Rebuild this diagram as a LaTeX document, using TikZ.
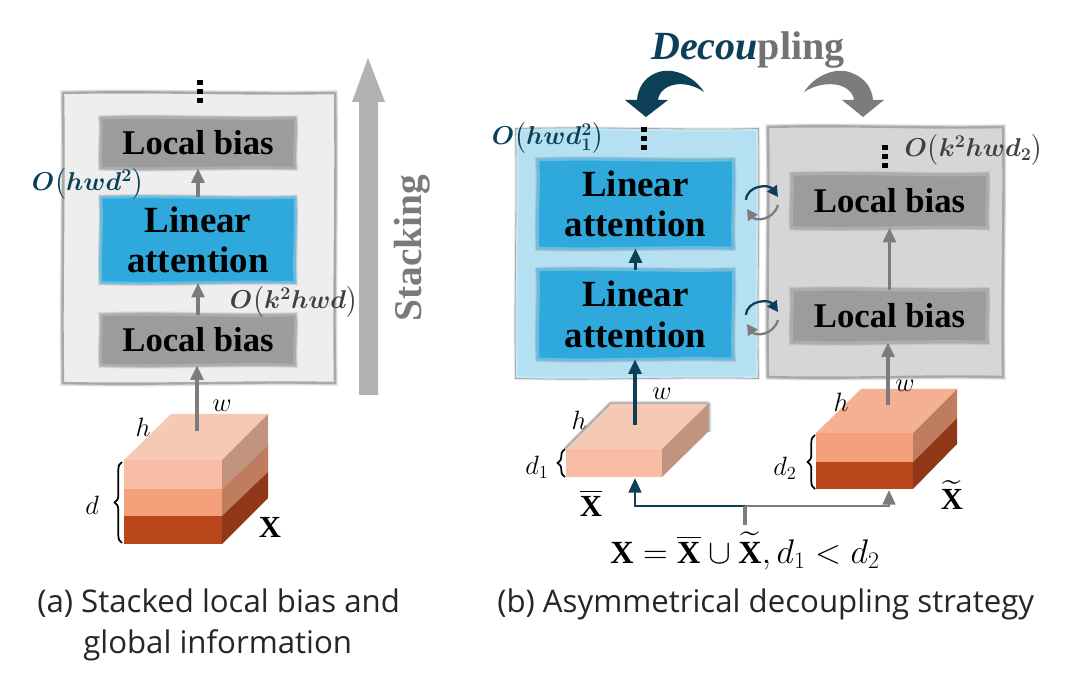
\documentclass[tikz,border=0pt]{standalone}
\usepackage{amsmath}
\usepackage{bm}
\usepackage{fontspec}
\setmainfont{Liberation Serif}
\newfontfamily\capfont{Open Sans}
\usetikzlibrary{arrows.meta,decorations.pathreplacing,calc}
\definecolor{teal}{HTML}{0B4058}
\definecolor{arrowgray}{HTML}{7C7C7C}
\definecolor{boxgray}{HTML}{9C9C9C}
\definecolor{boxedge}{HTML}{ADADAD}
\definecolor{attblue}{HTML}{2FA8DC}
\definecolor{attedge}{HTML}{68BDE2}
\definecolor{paneledge}{HTML}{A8A8A8}
\definecolor{panelblue}{HTML}{B5E0F1}
\definecolor{panelblueedge}{HTML}{C2E7F5}
\definecolor{cT}{HTML}{F6C9B5}
\definecolor{cTb}{HTML}{F4B093}
\definecolor{cA}{HTML}{F7BCA4}
\definecolor{cB}{HTML}{F3A07B}
\definecolor{cC}{HTML}{B9451B}
\definecolor{sA}{HTML}{C29480}
\definecolor{sB}{HTML}{BE7D5F}
\definecolor{sC}{HTML}{8F3716}
\tikzset{
  x=0.75pt,y=-0.75pt,
  soft/.style={line join=round,preaction={draw=black,draw opacity=.07,line width=4.5pt},preaction={draw=black,draw opacity=.10,line width=3.2pt}},
  panelgray/.style={soft,draw=paneledge,line width=1.8pt},
  panelbl/.style={line join=round,preaction={draw=black,draw opacity=.08,line width=4.5pt},preaction={draw=paneledge,line width=2.8pt},draw=panelblueedge,fill=panelblue,line width=1.5pt},
  localshape/.style={soft,draw=boxedge,fill=boxgray,line width=2pt},
  attshape/.style={soft,draw=attedge,fill=attblue,line width=2pt},
  localtext/.style={inner sep=0pt,font=\fontsize{26}{30}\selectfont\bfseries,text=black},
  atttext/.style={inner sep=0pt,align=center,font=\fontsize{27.7}{30.5}\selectfont\bfseries,text=black},
  plain/.style={inner sep=0pt},
  cx/.style={inner sep=0pt,font=\fontsize{17}{20}\selectfont},
  dim/.style={inner sep=0pt,font=\fontsize{17}{20}\selectfont},
  bigx/.style={inner sep=0pt,font=\fontsize{23}{26}\selectfont},
  caption/.style={inner sep=0pt,anchor=base west,font=\capfont\fontsize{23.4}{27}\selectfont,text=black!85},
  grayarrow/.style={draw=arrowgray,line width=2.8pt,-{Triangle[width=9.5pt,length=11pt]}},
  tealarrow/.style={draw=teal,line width=2.8pt,-{Triangle[width=9.5pt,length=11pt]}},
  brc/.style={draw=black,line width=1.3pt,decorate,decoration={brace,amplitude=5.5pt}},
  cyc/.style={line width=1.7pt,-{Triangle[width=8.5pt,length=8pt]}},
  cubeshadow/.style={draw=black,draw opacity=#1,line join=round},
}
% \wbox{name}{cx}{cy}{w}{h}{shape style}{text style}{text}
\newcommand{\wbox}[8]{%
  \path[#6] (#2-#4/2,#3-#5/2)
    .. controls (#2-#4/6,#3-#5/2-2.2) and (#2+#4/6,#3-#5/2+1.8) .. (#2+#4/2,#3-#5/2)
    .. controls (#2+#4/2+1.6,#3-#5/6) and (#2+#4/2-1.6,#3+#5/6) .. (#2+#4/2,#3+#5/2)
    .. controls (#2+#4/6,#3+#5/2-1.8) and (#2-#4/6,#3+#5/2+2.2) .. (#2-#4/2,#3+#5/2)
    .. controls (#2-#4/2-1.6,#3+#5/6) and (#2-#4/2+1.6,#3-#5/6) .. cycle;
  \node[#7,minimum width=#4*0.75pt,minimum height=#5*0.75pt] (#1) at (#2,#3) {#8};}
\newcommand{\threedots}[2]{%
  \fill[black] (#1-2.8,#2) rectangle (#1+2.8,#2+5);
  \fill[black] (#1-2.8,#2+9) rectangle (#1+2.8,#2+14);
  \fill[black] (#1-2.8,#2+18) rectangle (#1+2.8,#2+23);}
\newcommand{\cyclepair}[2]{%
  \draw[cyc,draw=teal] (#1-15,#2) .. controls (#1-14,#2-15) and (#1+8,#2-16) .. (#1+17,#2-3);
  \draw[cyc,draw=arrowgray] (#1+17,#2+5) .. controls (#1+12,#2+21) and (#1-6,#2+21) .. (#1-14,#2+9);}
\begin{document}
\begin{tikzpicture}
\path[use as bounding box,fill=white] (0,0) rectangle (1078,680);

% ---------- panel (a)
\wbox{pa}{199}{238}{272}{290}{panelgray,fill=black!6.5}{plain}{}
\wbox{la2}{198}{143}{194}{50}{localshape}{localtext}{Local bias}
\wbox{laa}{198}{240}{194}{85}{attshape}{atttext}{Linear\\attention}
\wbox{la1}{198}{340}{194}{50}{localshape}{localtext}{Local bias}
\threedots{200}{80}

% Stacking arrow
\fill[black!30] (359,395) -- (359,102) -- (352,102) -- (368,58) -- (385,102) -- (378,102) -- (378,395) -- cycle;
\node[rotate=90,inner sep=0pt,text=black!52,font=\fontsize{29.5}{32}\selectfont\bfseries] (stk) at (412,248) {Stacking};

% cube X
\fill[cT] (124,460) -- (171,414) -- (268,414) -- (222,460) -- cycle;
\fill[cA] (124,460) rectangle (222,489);
\fill[cB] (124,489) rectangle (222,516);
\fill[cC] (124,516) rectangle (222,544);
\fill[sA] (222,460) -- (268,414) -- (268,445) -- (222,489) -- cycle;
\fill[sB] (222,489) -- (268,445) -- (268,472) -- (222,516) -- cycle;
\fill[sC] (222,516) -- (268,472) -- (268,498) -- (222,544) -- cycle;
\coordinate (xtop) at (197,431);
\draw[brc] (122,543) -- (122,462);
\node[dim] (lw) at (222,406) {\scalebox{1.15}{$w$}};
\node[dim] (lh) at (143,427) {\scalebox{1.15}{$h$}};
\node[dim] (ld) at (92,505) {\scalebox{1.15}{$d$}};
\node[bigx] (lX) at (270,527) {$\mathbf{X}$};

\draw[grayarrow] (xtop) -- (xtop |- la1.south);
\draw[grayarrow] (la1.north) -- (laa.south);
\draw[grayarrow] (laa.north) -- (la2.south);

\node[cx,text=teal] (ca1) at (88,184) {\scalebox{1.12}{$\bm{O\bigl(hwd^2\bigr)}$}};
\node[cx,text=black!75] (ca2) at (294,302) {\scalebox{1.12}{$\bm{O\bigl(k^2hwd\bigr)}$}};

% ---------- panel (b)
\wbox{pg}{885.5}{252}{235}{250}{panelgray,fill=black!16}{plain}{}
\wbox{pb}{637}{253.5}{240}{247}{panelbl}{plain}{}
\wbox{ba2}{635.5}{204}{195}{88}{attshape}{atttext}{Linear\\attention}
\wbox{ba1}{635.5}{314.5}{195}{89}{attshape}{atttext}{Linear\\attention}
\wbox{bl2}{889.5}{201}{195}{53}{localshape}{localtext}{Local bias}
\wbox{bl1}{889.5}{316}{195}{52}{localshape}{localtext}{Local bias}
\threedots{644}{127}
\threedots{885}{145}

\node[cx,text=teal] (cb1) at (548,138) {\scalebox{1.12}{$\bm{O\bigl(hwd_1^2\bigr)}$}};
\node[cx,text=black!75] (cb2) at (974,150) {\scalebox{1.12}{$\bm{O\bigl(k^2hwd_2\bigr)}$}};

% Decoupling title
\node[inner sep=0pt,font=\fontsize{30}{33}\selectfont\bfseries] (dec) at (748,50) {\textcolor{teal}{\itshape Decou}\textcolor{black!55}{pling}};

% curved arrows
\fill[teal] (704,92) .. controls (694,76) and (672,66) .. (656,73) .. controls (644,78) and (638,88) .. (637,100)
  -- (625,100) -- (646,117) -- (668,100) -- (658,100) .. controls (660,84) and (684,78) .. (704,92) -- cycle;
\fill[arrowgray] (804,92) .. controls (814,76) and (836,66) .. (852,73) .. controls (865,78) and (872,88) .. (873,100)
  -- (884,100) -- (863,117) -- (842,100) -- (854,100) .. controls (852,84) and (826,78) .. (804,92) -- cycle;

% cycle arrows
\cyclepair{761}{200}
\cyclepair{761}{315}

% cube d1
\draw[cubeshadow=.14,line width=4.5pt] (566,449) -- (611,404) -- (708,404) -- (708,432);
\draw[cubeshadow=.22,line width=2.5pt] (566,449) -- (611,404) -- (708,404) -- (708,432);
\fill[cT] (566,449) -- (611,404) -- (708,404) -- (662,449) -- cycle;
\fill[cA] (566,449) rectangle (662,477);
\fill[sA] (662,449) -- (708,404) -- (708,432) -- (662,477) -- cycle;
\coordinate (b1top) at (635,425);
\coordinate (b1bot) at (635,478);
\draw[brc] (565,477) -- (565,449);
\node[dim] (bw1) at (662,394) {\scalebox{1.15}{$w$}};
\node[dim] (bh1) at (579,420) {\scalebox{1.15}{$h$}};
\node[dim] (bd1) at (537,467) {\scalebox{1.15}{$d_1$}};
\node[bigx] (bX1) at (591,503) {$\overline{\mathbf{X}}$};

% cube d2
\fill[cTb] (816,433) -- (861,389) -- (957,389) -- (913,433) -- cycle;
\fill[cB] (816,433) rectangle (913,462);
\fill[cC] (816,462) rectangle (913,489);
\fill[sB] (913,433) -- (957,389) -- (957,418) -- (913,462) -- cycle;
\fill[sC] (913,462) -- (957,418) -- (957,444) -- (913,489) -- cycle;
\coordinate (b2top) at (888,405);
\coordinate (b2bot) at (889,490);
\draw[brc] (815,489) -- (815,435);
\node[dim] (bw2) at (905,386) {\scalebox{1.15}{$w$}};
\node[dim] (bh2) at (841,402) {\scalebox{1.15}{$h$}};
\node[dim] (bd2) at (785,468) {\scalebox{1.15}{$d_2$}};
\node[bigx] (bX2) at (952,495) {$\widetilde{\mathbf{X}}$};

\draw[tealarrow] (b1top) -- (b1top |- ba1.south);
\draw[tealarrow] (ba1.north) -- (ba2.south);
\draw[grayarrow] (b2top) -- (b2top |- bl1.south);
\draw[grayarrow] (bl1.north) -- (bl2.south);

% bottom connector
\node[inner sep=0pt,font=\fontsize{23.5}{28}\selectfont] (form) at (745,551) {\scalebox{1.03}{$\mathbf{X}=\overline{\mathbf{X}}\cup\widetilde{\mathbf{X}},d_1<d_2$}};
\coordinate (jn) at (745,506);
\draw[tealarrow,line width=2pt] (jn) -| (b1bot);
\draw[grayarrow,line width=2pt] (jn) -| (b2bot);
\draw[draw=arrowgray,line width=2.6pt] (jn) -- (745,525);

% captions
\node[caption] (c1) at (37,612) {(a) Stacked local bias and};
\node[caption] (c2) at (83,653) {global information};
\node[caption] (c3) at (497,612) {(b) Asymmetrical decoupling strategy};
\end{tikzpicture}
\end{document}
